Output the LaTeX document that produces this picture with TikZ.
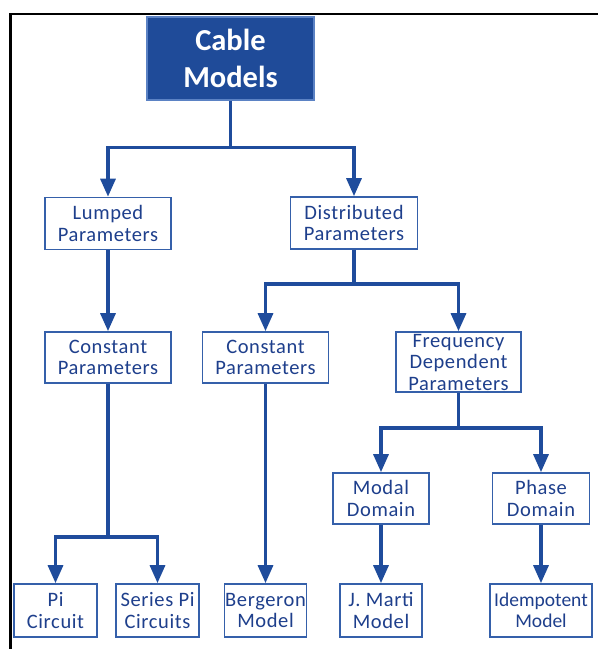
\documentclass[tikz,border=0pt]{standalone}
\usepackage{fontspec}
\setmainfont{Carlito}
\usetikzlibrary{arrows.meta,calc}
\definecolor{titlefill}{HTML}{1F4B99}
\definecolor{titleedge}{HTML}{5B82C4}
\definecolor{boxedge}{HTML}{3560AA}
\definecolor{boxtext}{HTML}{1E3F8C}
\definecolor{linkblue}{HTML}{1F4C9C}
\begin{document}
\begin{tikzpicture}[x=1pt,y=-1pt,
  titlebox/.style={draw=titleedge, line width=1.2pt, fill=titlefill, text=white,
    font=\fontsize{30.5}{37}\selectfont\bfseries, align=center,
    minimum width=167pt, minimum height=83pt, inner sep=0pt},
  itembox/.style={draw=boxedge, line width=1.7pt, fill=white, text=boxtext,
    font=\fontsize{20.5}{21.5}\selectfont\addfontfeatures{LetterSpace=3}, align=center, inner sep=0pt},
  tightbox/.style={itembox, font=\fontsize{19.5}{21.5}\selectfont},
  link/.style={draw=linkblue, line width=3.3pt},
  arrowlink/.style={link, -{Triangle[width=15pt,length=18pt]}},
  frame/.style={draw=black, line width=2.2pt}]
\useasboundingbox (0,0) rectangle (598,649);

% outer frame (top and left edges)
\draw[frame] (10.5,649) -- (10.5,14) -- (598,14);

% boxes
\node[titlebox] (cable) at (230.5,58.5) {Cable\\Models};
\node[itembox, minimum width=126pt, minimum height=52pt] (lumped) at (108,223.5) {Lumped\\Parameters};
\node[itembox, minimum width=127pt, minimum height=52pt] (dist) at (354,223) {Distributed\\Parameters};
\node[itembox, minimum width=126pt, minimum height=51pt] (constL) at (108,357.5) {Constant\\Parameters};
\node[itembox, minimum width=126pt, minimum height=51pt] (constM) at (265.5,357.5) {Constant\\Parameters};
\node[itembox, minimum width=125pt, minimum height=60pt] (freq) at (458.5,362) {Frequency\\Dependent\\Parameters};
\node[itembox, minimum width=96pt, minimum height=51pt] (modal) at (381,498.5) {Modal\\Domain};
\node[itembox, minimum width=97pt, minimum height=51pt] (phase) at (541,498.5) {Phase\\Domain};
\node[itembox, minimum width=83pt, minimum height=53pt] (pi) at (55.5,610.5) {Pi\\Circuit};
\node[itembox, minimum width=83pt, minimum height=53pt] (series) at (157.5,610.5) {Series Pi\\Circuits};
\node[itembox, minimum width=82pt, minimum height=53pt] (berg) at (265.5,610.5) {Bergeron\\Model};
\node[itembox, minimum width=82pt, minimum height=53pt] (marti) at (381,610.5) {J. Marti\\Model};
\node[tightbox, minimum width=102pt, minimum height=53pt] (idem) at (541,610.5) {Idempotent\\Model};

% branch points
\coordinate (j1) at ($(cable.south)+(0,47)$);
\coordinate (j2) at ($(dist.south)+(0,34)$);
\coordinate (j3) at ($(constL.south)+(0,153)$);
\coordinate (j4) at ($(freq.south)+(0,35)$);

% connectors
\draw[link] (cable.south) -- (j1);
\draw[arrowlink] (j1) -| (lumped.north);
\draw[arrowlink] (j1) -| (dist.north);

\draw[arrowlink] (lumped.south) -- (constL.north);

\draw[link] (dist.south) -- (j2);
\draw[arrowlink] (j2) -| (constM.north);
\draw[arrowlink] (j2) -| (freq.north);

\draw[link] (constL.south) -- (j3);
\draw[arrowlink] (j3) -| (pi.north);
\draw[arrowlink] (j3) -| (series.north);

\draw[arrowlink] (constM.south) -- (berg.north);

\draw[link] (freq.south) -- (j4);
\draw[arrowlink] (j4) -| (modal.north);
\draw[arrowlink] (j4) -| (phase.north);

\draw[arrowlink] (modal.south) -- (marti.north);
\draw[arrowlink] (phase.south) -- (idem.north);
\end{tikzpicture}
\end{document}
